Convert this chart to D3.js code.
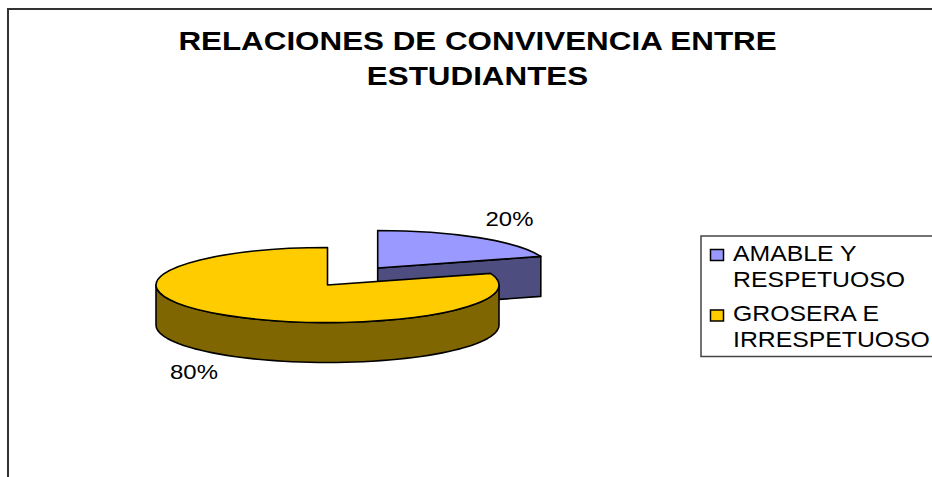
<!DOCTYPE html>
<html><head><meta charset="utf-8">
<style>html,body{margin:0;padding:0;background:#fff}svg{display:block}text{font-family:"Liberation Sans",Arial,sans-serif;fill:#000}</style>
<script src="https://cdn.jsdelivr.net/npm/d3@7"></script></head><body>
<script>
const categories = ["AMABLE Y RESPETUOSO", "GROSERA E IRRESPETUOSO"];
const legendLines = [["AMABLE Y", "RESPETUOSO"], ["GROSERA E", "IRRESPETUOSO"]];
const values = [20, 80];
const valueLabels = ["20%", "80%"];
const colors = ["#9999FF", "#FFCC00"];
const sideColors = ["#4D4D80", "#806600"];
const titleLines = ["RELACIONES DE CONVIVENCIA ENTRE", "ESTUDIANTES"];

const W = 932, H = 477;
const svg = d3.select("body").append("svg").attr("width", W).attr("height", H);

// frame (open at right and bottom)
svg.append("path").attr("d", `M8,${H}V9H${W}`).attr("fill", "none").attr("stroke", "#333").attr("stroke-width", 2);

// title (the reference text is horizontally stretched)
svg.append("g").selectAll("text").data(titleLines).join("text")
  .attr("transform", (d, i) => `translate(477.5,${50 + i * 34.5}) scale(1.207,1)`)
  .attr("text-anchor", "middle").attr("font-weight", "bold").attr("font-size", 26).text(d => d);

// pie
const rx = 171.5, ry = 37.5, depth = 40;
const centers = [[377.7, 268], [327.5, 285]];
const pie = d3.pie().sort(null).value(d => d)(values);
const arc = d3.arc().innerRadius(0).outerRadius(rx);
const px = (c, a) => c[0] + rx * Math.sin(a);
const py = (c, a) => c[1] - ry * Math.cos(a);
const rim = d3.line();

function wall(c, a0, a1) {
  const n = 60, top = d3.range(n + 1).map(k => a0 + (a1 - a0) * k / n).map(a => [px(c, a), py(c, a)]);
  const bottom = top.slice().reverse().map(p => [p[0], p[1] + depth]);
  return rim(top.concat(bottom)) + "Z";
}
const g = svg.append("g").attr("stroke", "#000").attr("stroke-width", 1.6).attr("stroke-linejoin", "round");

pie.forEach((s, i) => {
  const c = centers[i];
  if (i === 0) {
    // radial cut face of the exploded slice
    const e = s.endAngle;
    g.append("path").attr("fill", sideColors[i])
      .attr("d", rim([[c[0], c[1]], [px(c, e), py(c, e)], [px(c, e), py(c, e) + depth], [c[0], c[1] + depth]]) + "Z");
  } else {
    g.append("path").attr("fill", sideColors[i]).attr("d", wall(c, Math.PI / 2, 3 * Math.PI / 2));
  }
  g.append("path").attr("fill", colors[i]).attr("d", arc(s))
    .attr("vector-effect", "non-scaling-stroke")
    .attr("transform", `translate(${c[0]},${c[1]}) scale(1,${ry / rx})`);
});

// data labels
const labelPos = [[509.5, 226], [194, 379]];
svg.append("g").selectAll("text").data(valueLabels).join("text")
  .attr("transform", (d, i) => `translate(${labelPos[i][0]},${labelPos[i][1]}) scale(1.14,1)`)
  .attr("text-anchor", "middle").attr("font-size", 21).text(d => d);

// legend
svg.append("path").attr("d", `M${W},236H701V356.5H${W}`).attr("fill", "none").attr("stroke", "#444").attr("stroke-width", 1.5);
const lg = svg.append("g").selectAll("g").data(categories).join("g");
const swatchY = [249.5, 310];
const lineY = [[260.5, 286.5], [320.5, 347]];
lg.append("rect").attr("x", 710.5).attr("y", (d, i) => swatchY[i]).attr("width", 13).attr("height", 11)
  .attr("fill", (d, i) => colors[i]).attr("stroke", "#000").attr("stroke-width", 1.5);
lg.each(function (d, i) {
  d3.select(this).selectAll("text").data(legendLines[i]).join("text")
    .attr("transform", (t, j) => `translate(733,${lineY[i][j]}) scale(1.153,1)`)
    .attr("font-size", 21.5).text(t => t);
});
</script></body></html>
